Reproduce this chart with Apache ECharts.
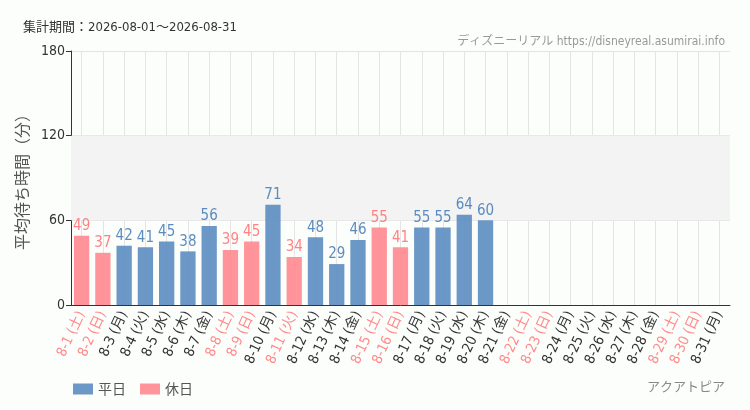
<!DOCTYPE html>
<html><head><meta charset="utf-8">
<script src="https://cdn.jsdelivr.net/npm/echarts@6/dist/echarts.min.js"></script>
<style>html,body{margin:0;padding:0;background:#fcfefc;}#c{width:750px;height:410px;}</style>
</head><body><div id="c"></div>
<script>
const categories = ['8-1 (土)','8-2 (日)','8-3 (月)','8-4 (火)','8-5 (水)','8-6 (木)','8-7 (金)','8-8 (土)','8-9 (日)','8-10 (月)','8-11 (火)','8-12 (水)','8-13 (木)','8-14 (金)','8-15 (土)','8-16 (日)','8-17 (月)','8-18 (火)','8-19 (水)','8-20 (木)','8-21 (金)','8-22 (土)','8-23 (日)','8-24 (月)','8-25 (火)','8-26 (水)','8-27 (木)','8-28 (金)','8-29 (土)','8-30 (日)','8-31 (月)'];
const holidayFlags = [1,1,0,0,0,0,0,1,1,0,1,0,0,0,1,1,0,0,0,0,0,1,1,0,0,0,0,0,1,1,0];
const waitValues = [49,37,42,41,45,38,56,39,45,71,34,48,29,46,55,41,55,55,64,60,null,null,null,null,null,null,null,null,null,null,null];
const yTicks = [0,60,120,180];
const bandRange = [60,120];

const weekdayData = waitValues.map((v,i)=> holidayFlags[i] ? null : v);
const holidayData = waitValues.map((v,i)=> holidayFlags[i] ? v : null);
const BLUE='#5b8dc0', PINK='#ff8a8f', BLUE_T='#4a7fb8', PINK_T='#ff7577';
const COND = "'DejaVu Sans Condensed', 'Noto Sans CJK JP'";

const chart = echarts.init(document.getElementById('c'));
chart.setOption({
  backgroundColor:'#fcfefc',
  animation:false,
  title:[
    {text:'集計期間：2026-08-01～2026-08-31', left:18, top:16, textStyle:{fontSize:13, fontWeight:'normal', color:'#333', fontFamily:COND}},
    {text:'ディズニーリアル https://disneyreal.asumirai.info', right:20, top:31, textStyle:{fontSize:12, fontWeight:'normal', color:'#999', fontFamily:COND}},
    {text:'アクアトピア', right:20, top:376, textStyle:{fontSize:13, fontWeight:'normal', color:'#888', fontFamily:COND}}
  ],
  legend:{left:68, top:377, itemWidth:20, itemHeight:11, itemGap:14, icon:'rect',
    textStyle:{fontSize:14, color:'#555', fontFamily:'Noto Sans CJK JP'},
    data:['平日','休日']},
  grid:{left:71, right:20, top:51, bottom:105},
  xAxis:{type:'category', data:categories,
    axisLine:{lineStyle:{color:'#333'}},
    axisTick:{alignWithLabel:true, length:5, lineStyle:{color:'#333'}},
    splitLine:{show:true, alignWithLabel:true, lineStyle:{color:'#e4e4e4'}},
    axisLabel:{rotate:65, interval:0, fontSize:14, margin:7, fontFamily:COND,
      color:(v,i)=> holidayFlags[i] ? '#ff8a8a' : '#333'}},
  yAxis:{type:'value', min:0, max:180, interval:60,
    name:'平均待ち時間（分）', nameLocation:'middle', nameGap:33, nameRotate:90,
    nameTextStyle:{fontSize:16, color:'#555', fontFamily:'Noto Sans CJK JP'},
    axisLine:{show:true, lineStyle:{color:'#333'}},
    axisTick:{show:true, length:5, lineStyle:{color:'#333'}},
    axisLabel:{fontSize:14, color:'#333', margin:6, fontFamily:COND},
    splitLine:{lineStyle:{color:'#e4e4e4'}}},
  series:[
    {name:'平日', type:'bar', stack:'a', data:weekdayData, barWidth:'72%', z:1,
      itemStyle:{color:BLUE, opacity:0.9},
      label:{show:true, position:'top', distance:2, color:BLUE_T, fontSize:15, fontFamily:COND},
      markArea:{silent:true, itemStyle:{color:'#f2f3f2'}, data:[[{yAxis:bandRange[0]},{yAxis:bandRange[1]}]]}},
    {name:'休日', type:'bar', stack:'a', data:holidayData, barWidth:'72%', z:1,
      itemStyle:{color:PINK, opacity:0.9},
      label:{show:true, position:'top', distance:2, color:PINK_T, fontSize:15, fontFamily:COND}}
  ]
});
</script></body></html>
